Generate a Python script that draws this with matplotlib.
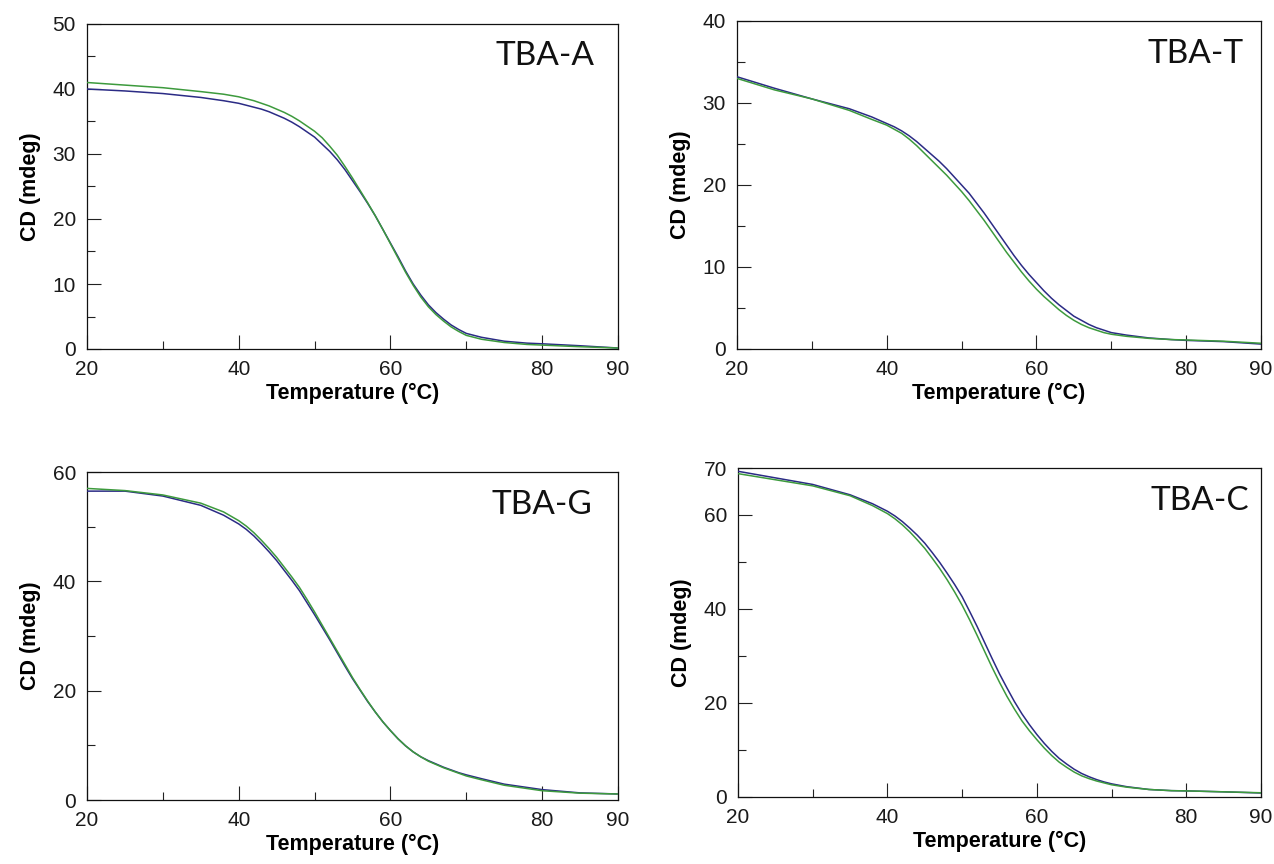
import matplotlib
matplotlib.use("Agg")
import matplotlib.pyplot as plt
from matplotlib import font_manager
from matplotlib.ticker import MultipleLocator, FixedLocator

# Temperature grid (°C) shared by all melting curves
temp = [20, 25, 30, 35, 38,
        40, 41, 42, 43, 44, 45, 46, 47, 48, 49,
        50, 51, 52, 53, 54, 55, 56, 57, 58, 59,
        60, 61, 62, 63, 64, 65, 66, 67, 68, 69,
        70, 72, 75, 78, 80, 85, 90]

# CD signal (mdeg), two runs per aptamer
tba_a_blue = [40.0, 39.7, 39.3, 38.7, 38.2,
              37.8, 37.5, 37.2, 36.9, 36.5, 36.0, 35.5, 34.9, 34.2, 33.4,
              32.6, 31.5, 30.4, 29.1, 27.6, 25.9, 24.2, 22.4, 20.5, 18.4,
              16.3, 14.2, 12.0, 10.0, 8.3, 6.8, 5.6, 4.6, 3.7, 3.0,
              2.4, 1.8, 1.2, 0.9, 0.8, 0.5, 0.15]
tba_a_green = [41.0, 40.6, 40.2, 39.6, 39.2,
               38.8, 38.5, 38.2, 37.8, 37.4, 36.9, 36.4, 35.8, 35.1, 34.3,
               33.5, 32.5, 31.2, 29.8, 28.1, 26.3, 24.4, 22.5, 20.5, 18.4,
               16.2, 14.0, 11.8, 9.8, 8.0, 6.5, 5.3, 4.3, 3.4, 2.7,
               2.1, 1.5, 1.0, 0.7, 0.6, 0.35, 0.15]

tba_t_blue = [33.2, 31.8, 30.5, 29.3, 28.3,
              27.5, 27.1, 26.6, 26.0, 25.3, 24.5, 23.7, 22.9, 22.0, 21.0,
              20.0, 19.0, 17.8, 16.6, 15.3, 14.0, 12.7, 11.4, 10.2, 9.1,
              8.1, 7.1, 6.2, 5.4, 4.7, 4.0, 3.5, 3.0, 2.6, 2.3,
              2.0, 1.7, 1.35, 1.15, 1.05, 0.9, 0.6]
tba_t_green = [33.0, 31.6, 30.5, 29.1, 28.0,
               27.3, 26.8, 26.3, 25.6, 24.8, 23.9, 23.0, 22.1, 21.2, 20.2,
               19.2, 18.1, 16.9, 15.7, 14.4, 13.1, 11.8, 10.6, 9.4, 8.3,
               7.3, 6.4, 5.6, 4.8, 4.1, 3.5, 3.0, 2.6, 2.3, 2.0,
               1.8, 1.55, 1.3, 1.15, 1.1, 0.95, 0.7]

tba_g_blue = [56.5, 56.5, 55.6, 53.9, 52.1,
              50.5, 49.5, 48.3, 46.9, 45.4, 43.8, 42.0, 40.2, 38.3, 36.1,
              33.9, 31.6, 29.3, 26.9, 24.5, 22.2, 20.1, 18.0, 16.1, 14.3,
              12.7, 11.2, 9.9, 8.8, 7.9, 7.2, 6.6, 6.0, 5.5, 5.0,
              4.6, 3.9, 2.9, 2.3, 1.9, 1.3, 1.1]
tba_g_green = [57.0, 56.6, 55.8, 54.3, 52.7,
               51.1, 50.1, 48.9, 47.5, 46.0, 44.4, 42.6, 40.8, 38.9, 36.7,
               34.4, 32.0, 29.6, 27.2, 24.8, 22.4, 20.2, 18.1, 16.1, 14.3,
               12.7, 11.2, 9.9, 8.8, 7.9, 7.1, 6.5, 5.9, 5.4, 4.9,
               4.4, 3.7, 2.7, 2.1, 1.7, 1.25, 1.1]

tba_c_blue = [69.3, 67.9, 66.5, 64.3, 62.4,
              60.8, 59.8, 58.6, 57.2, 55.7, 54.0, 52.0, 49.9, 47.6, 45.2,
              42.6, 39.5, 36.3, 32.9, 29.5, 26.2, 23.2, 20.3, 17.7, 15.4,
              13.3, 11.4, 9.7, 8.2, 7.0, 5.9, 5.0, 4.3, 3.7, 3.2,
              2.8, 2.2, 1.6, 1.35, 1.3, 1.1, 0.85]
tba_c_green = [68.8, 67.5, 66.2, 64.1, 62.0,
               60.3, 59.2, 57.9, 56.4, 54.7, 52.9, 50.8, 48.6, 46.2, 43.6,
               40.8, 37.7, 34.4, 31.0, 27.6, 24.4, 21.4, 18.7, 16.2, 14.1,
               12.2, 10.4, 8.8, 7.4, 6.3, 5.3, 4.5, 3.9, 3.4, 3.0,
               2.6, 2.1, 1.6, 1.35, 1.3, 1.1, 0.9]

panel_names = ["TBA-A", "TBA-T", "TBA-G", "TBA-C"]
y_max = [50, 40, 60, 70]
y_minor_step = [5, 5, 10, 10]
y_labels = [[0, 10, 20, 30, 40, 50], [0, 10, 20, 30, 40], [0, 20, 40, 60], [0, 20, 40, 60, 70]]
x_labels = [20, 40, 60, 80, 90]
x_minor = [30, 50, 70]

series = [(tba_a_blue, tba_a_green), (tba_t_blue, tba_t_green),
          (tba_g_blue, tba_g_green), (tba_c_blue, tba_c_green)]

BLUE = "#2b2b85"
GREEN = "#3d9a3d"

# prefer a narrow sans for tick numbers when one is installed
installed = {f.name for f in font_manager.fontManager.ttflist}
tick_font = "Liberation Sans"
for cand in ["Liberation Sans Narrow", "Arial Narrow"]:
    if cand in installed:
        tick_font = cand
        break

W, H = 1274, 864
fig = plt.figure(figsize=(W / 100, H / 100), dpi=100)

# axes boxes in pixels: left, top, right, bottom
boxes = [(87, 24, 618, 349), (737, 21, 1261, 349),
         (87, 472, 618, 800), (738, 468, 1261, 797)]
# right edge of the panel name, in axes fraction
name_x = [0.955, 0.967, 0.952, 0.977]

for i, (l, t, r, b) in enumerate(boxes):
    ax = fig.add_axes([l / W, 1 - b / H, (r - l) / W, (b - t) / H])
    blue, green = series[i]
    ax.plot(temp, blue, color=BLUE, lw=1.1, zorder=3, solid_joinstyle="round")
    ax.plot(temp, green, color=GREEN, lw=1.1, zorder=3, solid_joinstyle="round")
    ax.set_xlim(20, 90)
    ax.set_ylim(0, y_max[i])

    ax.xaxis.set_major_locator(FixedLocator(x_labels))
    ax.xaxis.set_minor_locator(FixedLocator(x_minor))
    ax.yaxis.set_major_locator(FixedLocator(y_labels[i]))
    ax.yaxis.set_minor_locator(MultipleLocator(y_minor_step[i]))
    ax.tick_params(which="both", direction="in", top=False, right=False,
                   colors="#222222", labelcolor="#1a1a1a")
    ax.tick_params(which="major", length=10, width=0.8, labelsize=15)
    ax.tick_params(axis="x", which="major", pad=8)
    ax.tick_params(axis="y", which="major", pad=8)
    ax.tick_params(which="minor", length=6, width=0.8)
    for lab in ax.get_xticklabels() + ax.get_yticklabels():
        lab.set_family([tick_font, "DejaVu Sans"])

    for sp in ax.spines.values():
        sp.set_linewidth(0.9)
        sp.set_color("#111111")

    ax.set_xlabel("Temperature (°C)", fontsize=15.5, fontweight="bold",
                  family=["Liberation Sans", "DejaVu Sans"], labelpad=3)
    ax.set_ylabel("CD (mdeg)", fontsize=15.5, fontweight="bold",
                  family=["Liberation Sans", "DejaVu Sans"], labelpad=8)
    ax.text(name_x[i], 0.90, panel_names[i], transform=ax.transAxes, ha="right",
            va="center", fontsize=24, family=["Lato", "DejaVu Sans"],
            color="#111111")

fig.savefig("out.png", dpi=100, facecolor="white")
